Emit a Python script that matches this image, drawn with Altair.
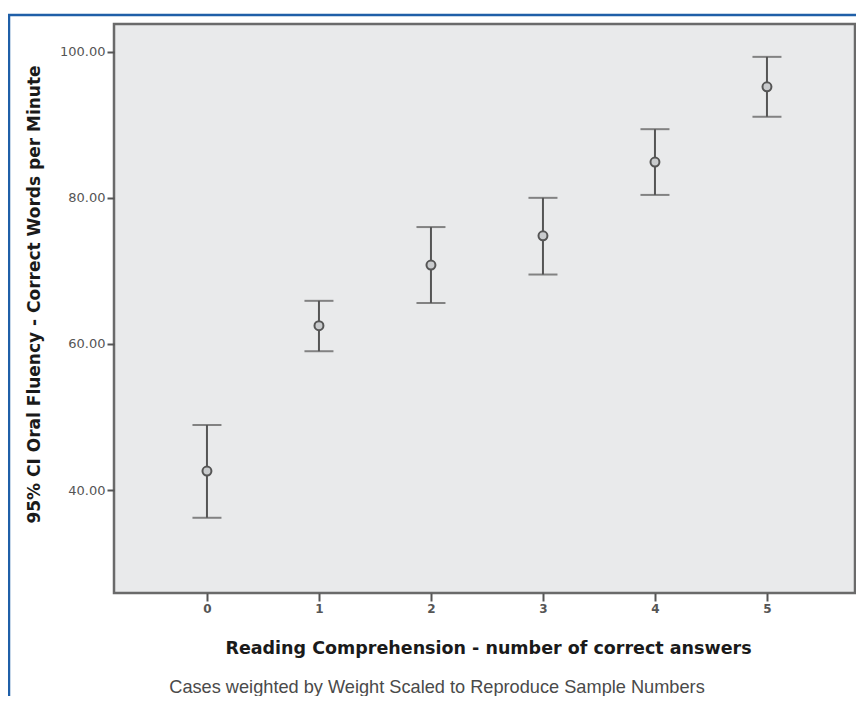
import altair as alt
import pandas as pd

categories = [0, 1, 2, 3, 4, 5]
means = [42.6, 62.5, 70.8, 74.8, 84.9, 95.2]
lowers = [36.2, 59.0, 65.6, 69.5, 80.4, 91.1]
uppers = [48.9, 65.9, 76.0, 80.0, 89.4, 99.3]
y_ticks = [40, 60, 80, 100]
x_ticks = [0, 1, 2, 3, 4, 5]

df = pd.DataFrame({"k": categories, "mean": means, "lo": lowers, "hi": uppers})

FONT = "DejaVu Sans"
INK = "#555555"

xs = alt.Scale(domain=[-0.83, 5.786], nice=False, zero=False)
ys = alt.Scale(domain=[25.9, 103.8], nice=False, zero=False)

xax = alt.Axis(
    values=x_ticks, format="d", title="Reading Comprehension - number of correct answers",
    grid=False, domain=False, tickSize=8, tickColor=INK, tickWidth=2,
    labelFont=FONT, labelFontSize=12, labelColor=INK, labelFontWeight="bold", labelPadding=2,
    titleFont=FONT, titleFontSize=17.5, titleFontWeight="bold", titleColor="#1a1a1a",
    titleX=374, titleY=55, titleBaseline="middle", titleAnchor="middle",
)
yax = alt.Axis(
    values=y_ticks, format=".2f", title="95% CI Oral Fluency - Correct Words per Minute",
    grid=False, domain=False, tickSize=7, tickColor=INK, tickWidth=2,
    labelFont=FONT, labelFontSize=13, labelColor=INK, labelPadding=2,
    titleFont=FONT, titleFontSize=17, titleFontWeight="bold", titleColor="#1a1a1a",
    titleX=-80, titleY=270, titleBaseline="middle", titleAnchor="middle", titleAngle=270,
)

base = alt.Chart(df)

bars = base.mark_rule(color=INK, strokeWidth=2).encode(
    x=alt.X("k:Q", scale=xs, axis=xax),
    y=alt.Y("lo:Q", scale=ys, axis=yax),
    y2="hi:Q",
)
cap_hi = base.mark_tick(color=INK, thickness=2, size=29, orient="horizontal").encode(
    x=alt.X("k:Q", scale=xs), y=alt.Y("hi:Q", scale=ys)
)
cap_lo = base.mark_tick(color=INK, thickness=2, size=29, orient="horizontal").encode(
    x=alt.X("k:Q", scale=xs), y=alt.Y("lo:Q", scale=ys)
)
pts = base.mark_point(shape="circle", size=80, stroke=INK, strokeWidth=2, fill="#c9cbcd", fillOpacity=1, opacity=1).encode(
    x=alt.X("k:Q", scale=xs), y=alt.Y("mean:Q", scale=ys)
)

frame_left = alt.Chart(pd.DataFrame({"a": [0]})).mark_rule(color="#1f5fa8", strokeWidth=2.5, clip=False).encode(
    x=alt.value(-105), y=alt.value(-9), y2=alt.value(700)
)
frame_top = alt.Chart(pd.DataFrame({"a": [0]})).mark_rule(color="#1f5fa8", strokeWidth=2.5, clip=False).encode(
    x=alt.value(-106), x2=alt.value(760), y=alt.value(-9)
)
caption = alt.Chart(pd.DataFrame({"t": ["Cases weighted by Weight Scaled to Reproduce Sample Numbers"]})).mark_text(
    font="Liberation Sans", fontSize=18.2, color="#4a4a4a", align="center", baseline="middle"
).encode(text="t:N", x=alt.value(323), y=alt.value(664))

chart = alt.layer(frame_left, frame_top, bars, cap_hi, cap_lo, pts, caption).properties(
    width=741, height=569,
    autosize=alt.AutoSizeParams(type="none"),
    padding={"left": 106, "top": 16, "right": 1, "bottom": 103},
    background="white",
).configure_view(
    fill="#e9eaeb", stroke="#6a6a6a", strokeWidth=2.5
)

chart.save("out.html", embed_options={"renderer": "svg", "actions": False})
